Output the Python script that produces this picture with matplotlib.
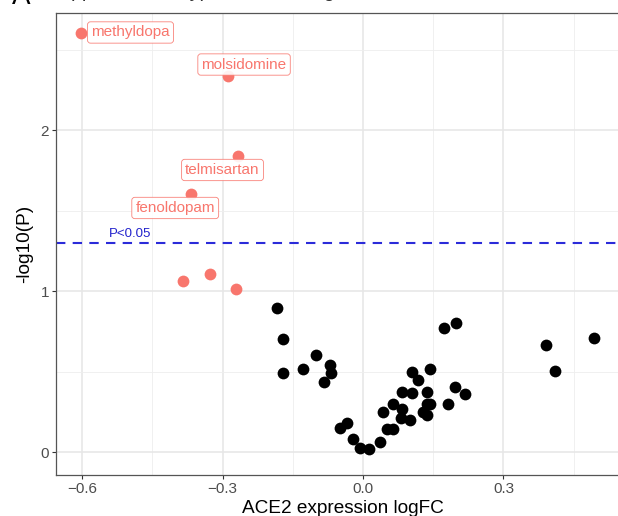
import matplotlib
matplotlib.use("Agg")
import matplotlib.pyplot as plt
from matplotlib.ticker import MultipleLocator

plt.rcParams['font.family'] = ['Liberation Sans', 'DejaVu Sans']

# significant (red) drugs
red_x = [-0.602, -0.288, -0.267, -0.367, -0.384, -0.327, -0.271]
red_y = [2.60, 2.335, 1.84, 1.60, 1.062, 1.106, 1.012]

# labelled drugs: name and label position
label_names = ["methyldopa", "molsidomine", "telmisartan", "fenoldopam"]
label_x = [-0.4965, -0.254, -0.300, -0.401]
label_y = [2.606, 2.407, 1.752, 1.516]

# non-significant (black) drugs
black_x = [-0.184, -0.171, -0.171, -0.128, -0.100, -0.070, -0.068, -0.083,
           -0.049, -0.034, -0.021, -0.006, 0.013, 0.036, 0.043, 0.051,
           0.064, 0.064, 0.083, 0.081, 0.100, 0.083, 0.105, 0.105,
           0.117, 0.143, 0.137, 0.128, 0.137, 0.143, 0.137, 0.173,
           0.199, 0.182, 0.196, 0.218, 0.391, 0.410, 0.493]
black_y = [0.894, 0.702, 0.491, 0.516, 0.602, 0.540, 0.491, 0.435,
           0.149, 0.180, 0.081, 0.025, 0.019, 0.062, 0.248, 0.143,
           0.143, 0.298, 0.267, 0.211, 0.199, 0.373, 0.366, 0.497,
           0.447, 0.516, 0.373, 0.248, 0.298, 0.298, 0.230, 0.770,
           0.801, 0.298, 0.404, 0.360, 0.665, 0.503, 0.708]

p_threshold = 1.30103  # -log10(0.05)
x_ticks = [-0.6, -0.3, 0.0, 0.3]
x_tick_labels = ["\u22120.6", "\u22120.3", "0.0", "0.3"]
y_ticks = [0, 1, 2]

RED = "#F8766D"

fig = plt.figure(figsize=(6.18, 5.16), dpi=100)
ax = fig.add_axes([56/618, 1-474.6/516, (630-56)/618, (474.6-13)/516])
ax.set_xlim(-0.6556, 0.5702)
ax.set_ylim(-0.140, 2.727)

ax.set_axisbelow(True)
ax.xaxis.set_minor_locator(MultipleLocator(0.15))
ax.yaxis.set_minor_locator(MultipleLocator(0.5))
ax.set_xticks(x_ticks)
ax.set_xticklabels(x_tick_labels)
ax.set_yticks(y_ticks)
ax.grid(which='major', color='#E6E6E6', lw=1.1)
ax.grid(which='minor', color='#EEEEEE', lw=0.6)
ax.tick_params(which='minor', length=0)
ax.tick_params(which='major', length=3, width=0.8, color='#333333',
               labelcolor='#4D4D4D', labelsize=11, pad=2)
for s in ax.spines.values():
    s.set_color('#555555')
    s.set_linewidth(0.9)

ax.axhline(p_threshold, color='#2b2bd9', lw=1.5, ls=(0, (4.5, 3.5)), zorder=2)
ax.text(-0.497, p_threshold + 0.015, "P<0.05", color='#2222cc', fontsize=9.5,
        ha='center', va='bottom')

ax.scatter(black_x, black_y, s=72, color='black', linewidths=0, zorder=3)
ax.scatter(red_x, red_y, s=72, color=RED, linewidths=0, zorder=3)

for name, lx, ly in zip(label_names, label_x, label_y):
    ax.text(lx, ly, name, color=RED, fontsize=11, ha='center', va='center',
            zorder=4,
            bbox=dict(boxstyle='round,pad=0.24,rounding_size=0.2',
                      fc='white', ec=RED, lw=0.6, alpha=0.9))

ax.set_xlabel("ACE2 expression logFC", fontsize=13.7, color='black', labelpad=3)
ax.set_ylabel("-log10(P)", fontsize=13.7, color='black', labelpad=5)

fig.text(12/618, 1-4/516, "A", fontsize=20, va='baseline', ha='left')
fig.text(58/618, 1+3/516, "Approved antihypertensive drugs", fontsize=14,
         va='baseline', ha='left', color='#333333')

fig.savefig("out.png", dpi=100)
